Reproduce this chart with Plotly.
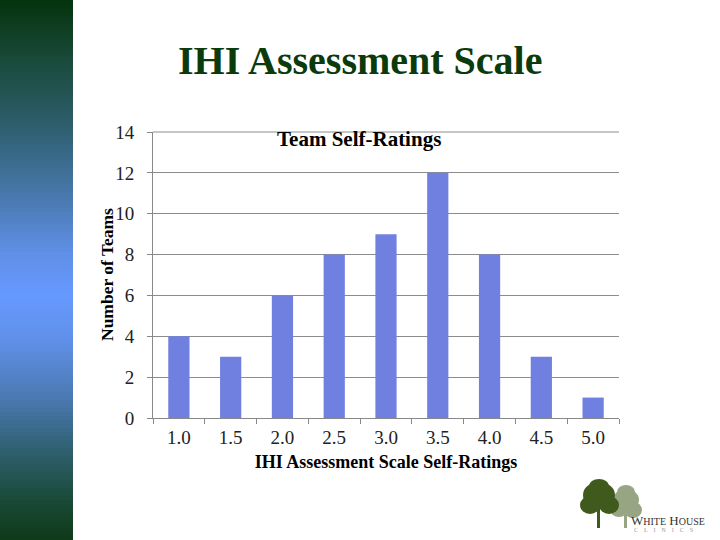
import plotly.graph_objects as go

categories = ["1.0", "1.5", "2.0", "2.5", "3.0", "3.5", "4.0", "4.5", "5.0"]
teams = [4, 3, 6, 8, 9, 12, 8, 3, 1]
y_ticks = [0, 2, 4, 6, 8, 10, 12, 14]

W, H = 720, 540
L, R, T, B = 153, 619, 132, 418

def px(x):
    return (x - L) / (R - L)

def py(y):
    return (B - y) / (B - T)

serif = "Liberation Serif, Times New Roman, serif"

fig = go.Figure()
fig.add_trace(go.Bar(x=categories, y=teams, marker=dict(color="#7080e0", line=dict(width=0)),
                     hoverinfo="x+y"))

shapes = []
# left gradient band
stops = [(0, (4, 51, 12)), (60, (26, 74, 58)), (130, (47, 96, 112)), (200, (74, 122, 176)),
         (255, (96, 144, 232)), (295, (102, 153, 255)), (340, (96, 144, 232)),
         (400, (74, 120, 176)), (450, (47, 96, 112)), (500, (26, 74, 56)), (540, (14, 58, 24))]

def color_at(y):
    for (y0, c0), (y1, c1) in zip(stops[:-1], stops[1:]):
        if y0 <= y <= y1:
            t = (y - y0) / (y1 - y0)
            return "rgb(%d,%d,%d)" % tuple(round(a + (b - a) * t) for a, b in zip(c0, c1))
    return "rgb(14,58,24)"

step = 4
for y in range(0, H, step):
    shapes.append(dict(type="rect", xref="paper", yref="paper",
                       x0=px(0), x1=px(73), y0=py(y), y1=py(y + step + 0.5),
                       fillcolor=color_at(y + step / 2), line=dict(width=0), layer="below"))

# top border gridline
shapes.append(dict(type="line", xref="paper", yref="paper", x0=0, x1=1, y0=1, y1=1,
                   line=dict(color="#8c8c8c", width=1)))

# logo trees
def blob(cx, cy, rx, ry, color):
    return dict(type="circle", xref="paper", yref="paper",
                x0=px(cx - rx), x1=px(cx + rx), y0=py(cy + ry), y1=py(cy - ry),
                fillcolor=color, line=dict(width=0))

light = "#97a585"
dark = "#3f5a1c"
for cx, cy, rx, ry in [(626, 500, 13, 11), (619, 509, 9, 8), (633, 510, 9, 8), (626, 492, 9, 7)]:
    shapes.append(blob(cx, cy, rx, ry, light))
shapes.append(dict(type="rect", xref="paper", yref="paper", x0=px(624), x1=px(627),
                   y0=py(528), y1=py(508), fillcolor=light, line=dict(width=0)))
for cx, cy, rx, ry in [(599, 495, 16, 13), (590, 505, 10, 9), (609, 505, 10, 9), (599, 486, 10, 7)]:
    shapes.append(blob(cx, cy, rx, ry, dark))
shapes.append(dict(type="rect", xref="paper", yref="paper", x0=px(597), x1=px(600),
                   y0=py(528), y1=py(508), fillcolor=dark, line=dict(width=0)))

annotations = [
    dict(text="<b>IHI Assessment Scale</b>", xref="paper", yref="paper", x=px(360), y=py(60),
         showarrow=False, font=dict(family=serif, size=40, color="#0b3a0b"), xanchor="center", yanchor="middle"),
    dict(text="<b>Team Self-Ratings</b>", xref="paper", yref="paper", x=px(359), y=py(139),
         showarrow=False, font=dict(family=serif, size=21, color="#000000"), xanchor="center", yanchor="middle"),
    dict(text="<b>Number of Teams</b>", xref="paper", yref="paper", x=px(107), y=py(275),
         showarrow=False, textangle=-90, font=dict(family=serif, size=17.5, color="#000000"),
         xanchor="center", yanchor="middle"),
    dict(text="W<span style='font-size:10px'>HITE</span> H<span style='font-size:10px'>OUSE</span>",
         xref="paper", yref="paper", x=px(629), y=py(520),
         showarrow=False, font=dict(family=serif, size=13, color="#333333"), xanchor="left", yanchor="middle"),
    dict(text="C    L    I    N    I    C    S", xref="paper", yref="paper", x=px(632), y=py(530),
         showarrow=False, font=dict(family=serif, size=6, color="#999999"), xanchor="left", yanchor="middle"),
]

fig.update_layout(
    width=W, height=H,
    margin=dict(l=L, r=W - R, t=T, b=H - B),
    paper_bgcolor="white", plot_bgcolor="white",
    showlegend=False, bargap=0.59,
    shapes=shapes, annotations=annotations,
    font=dict(family=serif, color="#222222"),
)
fig.update_xaxes(
    type="category", tickson="boundaries", ticks="outside", ticklen=5, tickcolor="#888888",
    showline=True, linecolor="#888888", linewidth=1, showgrid=False, ticklabelstandoff=2,
    tickfont=dict(family=serif, size=19, color="#222222"),
    title=dict(text="<b>IHI Assessment Scale Self-Ratings</b>", font=dict(family=serif, size=18, color="#000000"),
               standoff=8),
)
fig.update_yaxes(
    range=[0, 14], tickvals=y_ticks, ticks="outside", ticklen=5, tickcolor="#888888",
    showline=True, linecolor="#888888", linewidth=1, showgrid=True, gridcolor="#8c8c8c", gridwidth=1,
    zeroline=False, ticklabelstandoff=9,
    tickfont=dict(family=serif, size=19, color="#222222"),
)
fig.write_html("out.html", config={"displayModeBar": False},
               post_script="document.body.style.margin='0';document.body.style.padding='0';")
